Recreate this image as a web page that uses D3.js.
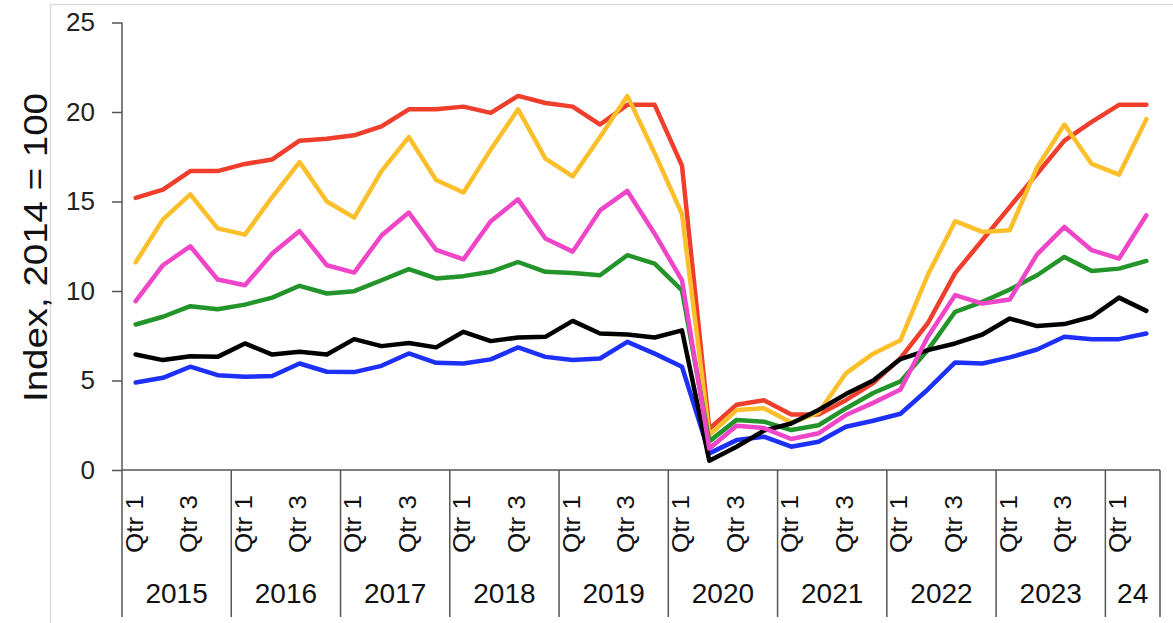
<!DOCTYPE html>
<html>
<head>
<meta charset="utf-8">
<script src="https://cdn.jsdelivr.net/npm/d3@7"></script>
<style>
  body { margin: 0; background: #fff; }
  svg { display: block; font-family: "Liberation Sans", Arial, sans-serif; }
</style>
</head>
<body>
<div id="chart"></div>
<script>
const years = ['2015', '2016', '2017', '2018', '2019', '2020', '2021', '2022', '2023', '24'];
const quartersPerYear = [4, 4, 4, 4, 4, 4, 4, 4, 4, 2];
const yTicks = [0, 5, 10, 15, 20, 25];

const red = [15.2, 15.66, 16.7, 16.7, 17.1, 17.35, 18.4, 18.5, 18.7, 19.2, 20.15, 20.15, 20.3, 19.95, 20.9, 20.5, 20.3, 19.3, 20.4, 20.4,
  17.0, 2.3, 3.65, 3.9, 3.1, 3.1, 3.9, 4.85, 6.25, 8.2, 11.0, 12.85, 14.7, 16.55, 18.4, 19.45, 20.4, 20.4];
const yellow = [11.6, 14.0, 15.4, 13.5, 13.15, 15.25, 17.2, 15.0, 14.1, 16.7, 18.6, 16.2, 15.5, 17.9, 20.15, 17.4, 16.4, 18.6, 20.9, 17.7,
  14.3, 1.95, 3.35, 3.45, 2.65, 3.2, 5.4, 6.5, 7.25, 10.9, 13.9, 13.3, 13.4, 16.9, 19.3, 17.1, 16.5, 19.6];
const magenta = [9.43, 11.44, 12.5, 10.64, 10.32, 12.09, 13.35, 11.44, 11.03, 13.1, 14.38, 12.3, 11.77, 13.9, 15.12, 12.93, 12.2, 14.5, 15.59, 13.2,
  10.6, 1.2, 2.47, 2.34, 1.73, 2.05, 3.07, 3.75, 4.5, 7.44, 9.77, 9.3, 9.52, 12.05, 13.58, 12.28, 11.81, 14.23];
const green = [8.13, 8.56, 9.15, 8.98, 9.24, 9.63, 10.29, 9.86, 9.99, 10.6, 11.22, 10.7, 10.83, 11.07, 11.62, 11.07, 11.0, 10.88, 12.0, 11.53,
  10.04, 1.6, 2.8, 2.7, 2.23, 2.5, 3.44, 4.3, 4.95, 6.7, 8.84, 9.39, 10.08, 10.88, 11.9, 11.12, 11.25, 11.68];
const black = [6.45, 6.14, 6.36, 6.32, 7.07, 6.45, 6.6, 6.45, 7.31, 6.92, 7.1, 6.85, 7.72, 7.2, 7.4, 7.44, 8.33, 7.63, 7.57, 7.4,
  7.8, 0.52, 1.3, 2.2, 2.6, 3.35, 4.24, 5.0, 6.2, 6.7, 7.07, 7.57, 8.46, 8.04, 8.15, 8.56, 9.63, 8.89];
const blue = [4.89, 5.15, 5.77, 5.3, 5.21, 5.25, 5.95, 5.49, 5.47, 5.82, 6.51, 5.99, 5.95, 6.18, 6.85, 6.32, 6.14, 6.23, 7.16, 6.5,
  5.77, 0.93, 1.67, 1.86, 1.3, 1.58, 2.42, 2.75, 3.14, 4.5, 6.01, 5.95, 6.29, 6.73, 7.44, 7.31, 7.31, 7.63];

const series = [
  { values: red, color: '#ef3e2c' },
  { values: yellow, color: '#fcbf2c' },
  { values: green, color: '#22942a' },
  { values: blue, color: '#1c30f8' },
  { values: black, color: '#000000' },
  { values: magenta, color: '#ef45c8' }
];

// one key per quarter, e.g. "2015-1"
const quarters = years.flatMap((y, i) => d3.range(1, quartersPerYear[i] + 1).map(q => ({ year: y, q, key: `${y}-${q}` })));

const W = 1173, H = 623;
const left = 122, right = 1160, zeroY = 470, topY = 22.5, axisBottom = 617;

const svg = d3.select('#chart').append('svg')
  .attr('width', W)
  .attr('height', H);

const x = d3.scaleBand()
  .domain(quarters.map(d => d.key))
  .range([left, right])
  .padding(0);

const y = d3.scaleLinear()
  .domain([0, 25])
  .range([zeroY, topY]);

// faint frame from the source screenshot
svg.append('path')
  .attr('d', `M50.5,${H} V4.5 H${W}`)
  .attr('fill', 'none')
  .attr('stroke', '#dcdcdc')
  .attr('stroke-width', 1.5);

// y axis
const yAxis = svg.append('g')
  .attr('transform', `translate(${left},0)`)
  .call(d3.axisLeft(y).tickValues(yTicks).tickSize(10).tickPadding(17).tickSizeOuter(0));
yAxis.select('.domain').remove();
yAxis.selectAll('.tick line').attr('stroke', '#555').attr('stroke-width', 1.5);
yAxis.selectAll('.tick text')
  .attr('font-size', 26)
  .attr('fill', '#222')
  .attr('font-family', '"Liberation Sans", Arial, sans-serif');

svg.append('line')
  .attr('x1', left).attr('x2', left)
  .attr('y1', y(25)).attr('y2', axisBottom)
  .attr('stroke', '#555').attr('stroke-width', 1.5);

svg.append('text')
  .attr('transform', `translate(47,${(93 + 402) / 2}) rotate(-90)`)
  .attr('text-anchor', 'middle')
  .attr('font-size', 33)
  .attr('fill', '#111')
  .attr('textLength', 309)
  .attr('lengthAdjust', 'spacingAndGlyphs')
  .text('Index, 2014 = 100');

// x axis: baseline, year separators, quarter and year labels
svg.append('line')
  .attr('x1', left).attr('x2', right)
  .attr('y1', zeroY).attr('y2', zeroY)
  .attr('stroke', '#555').attr('stroke-width', 1.5);

const yearGroups = years.map(yr => {
  const qs = quarters.filter(d => d.year === yr);
  const x0 = x(qs[0].key);
  const x1 = x(qs[qs.length - 1].key) + x.bandwidth();
  return { yr, x0, x1 };
});

svg.append('g')
  .selectAll('line')
  .data(yearGroups.map(d => d.x1))
  .join('line')
  .attr('x1', d => d).attr('x2', d => d)
  .attr('y1', zeroY).attr('y2', axisBottom)
  .attr('stroke', '#555').attr('stroke-width', 1.5);

svg.append('g')
  .selectAll('text')
  .data(quarters.filter(d => d.q === 1 || d.q === 3))
  .join('text')
  .attr('transform', d => `translate(${x(d.key) + x.bandwidth() / 2},495) rotate(-90)`)
  .attr('text-anchor', 'end')
  .attr('dy', '0.3em')
  .attr('font-size', 23)
  .attr('fill', '#111')
  .attr('textLength', 58)
  .attr('lengthAdjust', 'spacingAndGlyphs')
  .text(d => `Qtr ${d.q}`);

svg.append('g')
  .selectAll('text')
  .data(yearGroups)
  .join('text')
  .attr('x', d => (d.x0 + d.x1) / 2)
  .attr('y', 603)
  .attr('text-anchor', 'middle')
  .attr('font-size', 28)
  .attr('fill', '#111')
  .text(d => d.yr);

// series lines
const line = d3.line()
  .x((d, i) => x(quarters[i].key) + x.bandwidth() / 2)
  .y(d => y(d));

svg.append('g')
  .selectAll('path')
  .data(series)
  .join('path')
  .attr('d', d => line(d.values))
  .attr('fill', 'none')
  .attr('stroke', d => d.color)
  .attr('stroke-width', 4.5)
  .attr('stroke-linejoin', 'round')
  .attr('stroke-linecap', 'round');
</script>
</body>
</html>
